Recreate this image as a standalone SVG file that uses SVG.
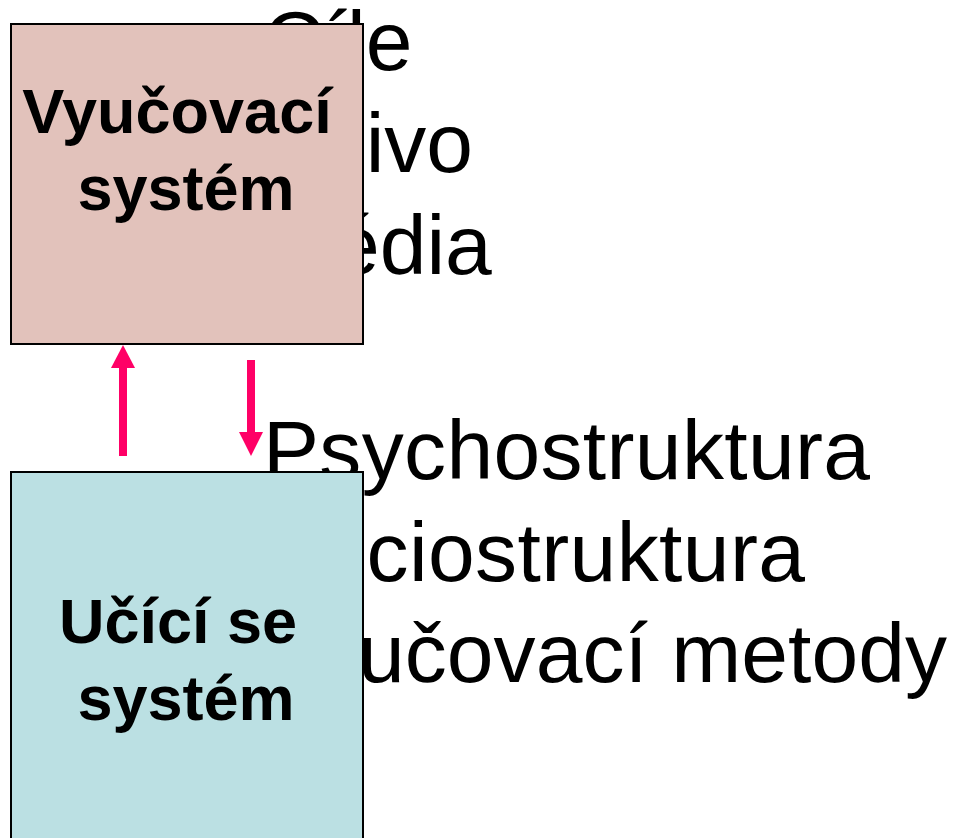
<svg xmlns="http://www.w3.org/2000/svg" width="959" height="838" viewBox="0 0 959 838">
<style>
.big{font-family:"Liberation Sans",Arial,sans-serif;font-size:84px;fill:#000}
.lbl{font-family:"Liberation Sans",Arial,sans-serif;font-size:63px;font-weight:bold;fill:#000}
.box{stroke:#000;stroke-width:2}
.arr{stroke:#FF0066;stroke-width:8;fill:none}
.head{fill:#FF0066}
</style>
<rect width="959" height="838" fill="#fff"/>
<g id="text-list">
<text class="big" x="263" y="70">Cíle</text>
<text class="big" x="263" y="172">Učivo</text>
<text class="big" x="263" y="274">Média</text>
<text class="big" x="263" y="479" textLength="607" lengthAdjust="spacing">Psychostruktura</text>
<text class="big" x="263" y="581" textLength="542" lengthAdjust="spacing">Sociostruktura</text>
<text class="big" x="263" y="682" textLength="684" lengthAdjust="spacing">Vyučovací metody</text>
</g>
<g id="vyucovaci-system">
<rect class="box" x="11" y="24" width="352" height="320" fill="#E2C2BB"/>
<text class="lbl" x="177" y="133" text-anchor="middle">Vyučovací</text>
<text class="lbl" x="186" y="210" text-anchor="middle">systém</text>
</g>
<g id="ucici-se-system">
<rect class="box" x="11" y="472" width="352" height="380" fill="#BBE0E3"/>
<text class="lbl" x="178" y="643" text-anchor="middle">Učící se</text>
<text class="lbl" x="186" y="720" text-anchor="middle">systém</text>
</g>
<g id="connectors">
<line class="arr" x1="123" y1="456" x2="123" y2="366"/>
<polygon class="head" points="111,368 135,368 123,345"/>
<line class="arr" x1="251" y1="360" x2="251" y2="434"/>
<polygon class="head" points="239,432 263,432 251,456"/>
</g>
</svg>
